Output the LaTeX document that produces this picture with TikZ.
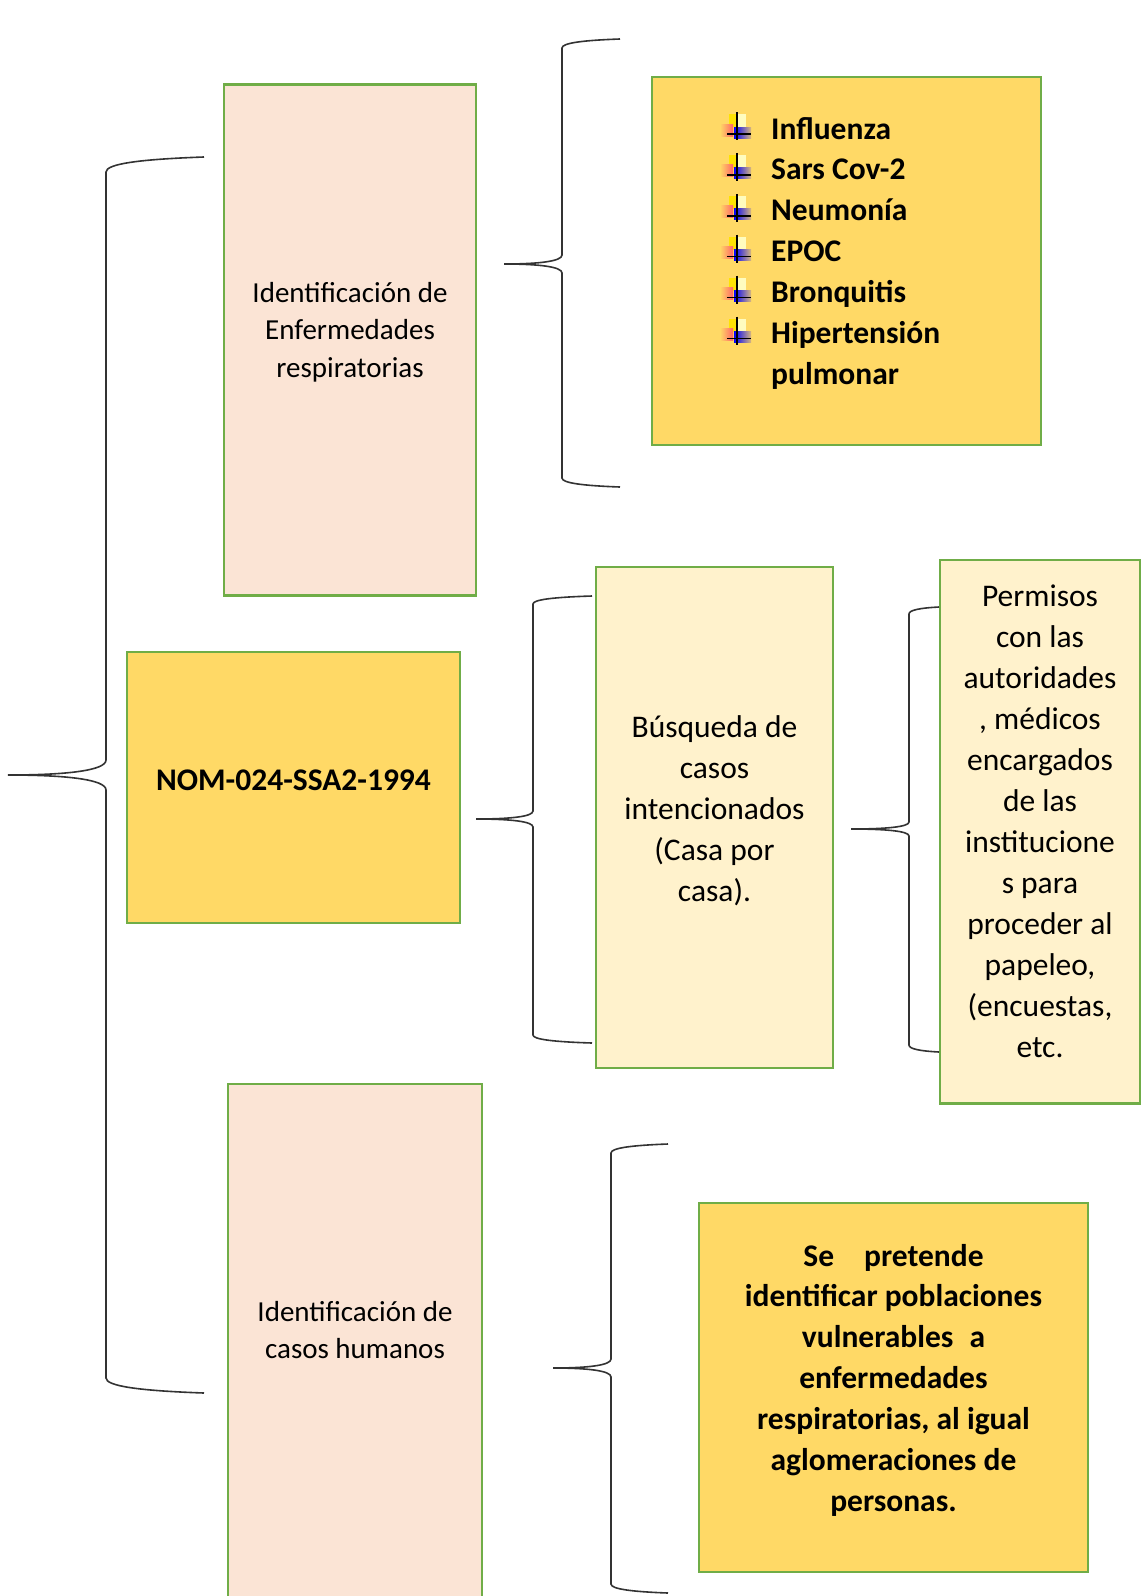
\documentclass[tikz,border=0pt]{standalone}
\usepackage{fontspec}
\setmainfont{Carlito}
\definecolor{peach}{HTML}{FBE4D5}
\definecolor{gold}{HTML}{FFD966}
\definecolor{cream}{HTML}{FFF2CC}
\definecolor{grn}{HTML}{70AD47}
% #1 spine x, #2 tip x, #3 tip y, #4 end x, #5 top y, #6 bottom y, #7 corner size
\newcommand\drawbrace[7]{%
  \draw[bracestyle] (#4,#5) .. controls ({#1+0.35*(#4-#1)},{#5+0.15*#7}) and (#1,{#5+0.45*#7}) .. (#1,{#5+#7})
    -- (#1,{#3-#7}) .. controls (#1,{#3-0.3*#7}) and ({#1-0.4*(#1-#2)},#3) .. (#2,#3)
    .. controls ({#1-0.4*(#1-#2)},#3) and (#1,{#3+0.3*#7}) .. (#1,{#3+#7})
    -- (#1,{#6-#7}) .. controls (#1,{#6-0.45*#7}) and ({#1+0.35*(#4-#1)},{#6-0.15*#7}) .. (#4,#6);}
\begin{document}
\begin{tikzpicture}[x=1pt,y=-1pt,
  box/.style={draw=grn, line width=2.6pt, rectangle, inner sep=0pt},
  bracestyle/.style={draw=black!80, line width=1.6pt},
  lbl/.style={inner sep=0pt},
  regA/.style={font=\fontsize{29}{37.5}\selectfont},
  regB/.style={font=\fontsize{31.5}{41}\selectfont},
  boldB/.style={font=\fontsize{31.5}{40.9}\selectfont\bfseries},
  bulicon/.pic={
    \fill[yellow!85!orange] (-8,-25) rectangle (-1,-12);
    \fill[yellow!25] (1,-25) rectangle (9,-12);
    \shade[left color=gold, right color=red!60!white] (-17,-15) rectangle (-4,-3);
    \shade[left color=blue, right color=blue!15!gold] (-3,-12) rectangle (14,-1);
    \draw[black, line width=1.5pt] (0,-27) -- (0,1);
    \draw[black, line width=1.5pt] (-10,-5) -- (14,-5);
  }]
\useasboundingbox (0,0) rectangle (1141,1596);
\clip (0,0) rectangle (1141,1596);
\fill[white] (0,0) rectangle (1141,1596);

% boxes
\node[box, fill=peach, minimum width=252pt, minimum height=511pt] (b1) at (350,340) {};
\node[box, fill=gold, minimum width=389pt, minimum height=368pt] (blist) at (846.5,261) {};
\node[box, fill=gold, minimum width=333pt, minimum height=271pt] (bnom) at (293.5,787.5) {};
\node[box, fill=cream, minimum width=237pt, minimum height=501pt] (bbus) at (714.5,817.5) {};
\node[box, fill=cream, minimum width=200pt, minimum height=543.5pt] (bper) at (1040,831.75) {};
\node[box, fill=peach, minimum width=254pt, minimum height=556pt] (b3) at (355,1362) {};
\node[box, fill=gold, minimum width=389pt, minimum height=369pt] (bse) at (893.5,1387.5) {};

% braces
\drawbrace{106}{8}{775}{204}{157}{1393}{15}
\drawbrace{562}{504}{264}{620}{39}{487}{9}
\drawbrace{533}{476}{819}{592}{596}{1043}{8}
\drawbrace{909}{851}{829}{939}{607}{1052}{7}
\drawbrace{611}{553}{1368}{668}{1144}{1593}{9}

% texts
\node[lbl, regA, anchor=base] (t1) at (350,302) {\begin{tabular}[t]{@{}c@{}}Identificación de\\Enfermedades\\respiratorias\end{tabular}};
\node[lbl, boldB, anchor=base west] (tlist) at (771,139) {\begin{tabular}[t]{@{}l@{}}Influenza\\Sars Cov-2\\Neumonía\\EPOC\\Bronquitis\\Hipertensión\\pulmonar\end{tabular}};
\foreach \k in {0,...,5} { \pic at (737,{139+40.9*\k}) {bulicon}; }
\node[lbl, boldB, anchor=base] (tnom) at (293.5,790) {NOM-024-SSA2-1994};
\node[lbl, regB, anchor=base] (tbus) at (714.5,737) {\begin{tabular}[t]{@{}c@{}}Búsqueda de\\casos\\intencionados\\(Casa por\\casa).\end{tabular}};
\node[lbl, regB, anchor=base] (tper) at (1040,606) {\begin{tabular}[t]{@{}c@{}}Permisos\\con las\\autoridades\\, médicos\\encargados\\de las\\institucione\\s para\\proceder al\\papeleo,\\(encuestas,\\etc.\end{tabular}};
\node[lbl, regA, anchor=base] (t3) at (355,1321) {\begin{tabular}[t]{@{}c@{}}Identificación de\\casos humanos\end{tabular}};
\node[lbl, boldB, anchor=base] (tse) at (893.5,1266) {\begin{tabular}[t]{@{}c@{}}Se\hspace{23pt} pretende\\identificar poblaciones\\vulnerables\hspace{9pt} a\\enfermedades\\respiratorias, al igual\\aglomeraciones de\\personas.\end{tabular}};
\end{tikzpicture}
\end{document}
